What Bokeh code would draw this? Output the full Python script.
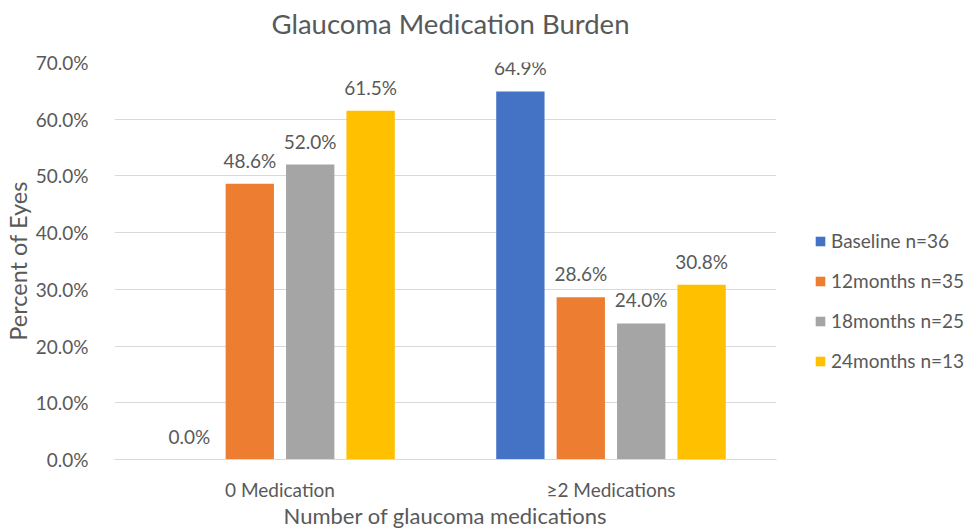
from bokeh.plotting import figure
from bokeh.layouts import row
from bokeh.models import (ColumnDataSource, FactorRange, Range1d, PrintfTickFormatter,
                          Legend, LegendItem, FixedTicker, Title)
from bokeh.transform import dodge
from bokeh.core.properties import value
from bokeh.embed import file_html
from bokeh.resources import INLINE

categories = ["0 Medication", "≥2 Medications"]
series = ["Baseline n=36", "12months n=35", "18months n=25", "24months n=13"]
baseline = [0.0, 64.9]
m12 = [48.6, 28.6]
m18 = [52.0, 24.0]
m24 = [61.5, 30.8]
colors = ["#4472C4", "#ED7D31", "#A5A5A5", "#FFC000"]
y_ticks = [0, 10, 20, 30, 40, 50, 60, 70]

FONT = "Lato"
TXT = "#595959"
FS = "19px"

data = dict(cat=categories, s0=baseline, s1=m12, s2=m18, s3=m24)
for i, k in enumerate(["s0", "s1", "s2", "s3"]):
    data[k + "_lbl"] = ["%.1f%%" % v for v in data[k]]
src = ColumnDataSource(data)

p = figure(width=790, height=531, x_range=FactorRange(factors=categories, range_padding=0),
           y_range=Range1d(0, 70), output_backend="svg", toolbar_location=None,
           min_border_left=113, min_border_right=14, min_border_top=62, min_border_bottom=71,
           title=None)
p.outline_line_color = None

spacer = Title(text=" ", text_font_size="1px", standoff=19)
p.add_layout(spacer, "above")
main_title = Title(text="Glaucoma Medication Burden", align="left", offset=157,
                   text_font=FONT, text_font_size="27.5px", text_font_style="normal",
                   text_color=TXT, standoff=2)
p.add_layout(main_title, "above")

step = 0.1825
width = 0.146
offsets = [-1.5 * step, -0.5 * step, 0.5 * step, 1.5 * step]
renderers = []
for i, k in enumerate(["s0", "s1", "s2", "s3"]):
    r = p.vbar(x=dodge("cat", offsets[i], range=p.x_range), top=k, width=width,
               source=src, fill_color=colors[i], line_color=None)
    renderers.append(r)
    p.text(x=dodge("cat", offsets[i], range=p.x_range), y=k, text=k + "_lbl", source=src,
           text_align="center", text_baseline="bottom", y_offset=-12,
           text_font=value(FONT), text_font_size=FS, text_color=TXT)

# axes
p.yaxis.ticker = FixedTicker(ticks=y_ticks)
p.yaxis.formatter = PrintfTickFormatter(format="%.1f%%")
p.yaxis.axis_line_color = None
p.yaxis.major_tick_line_color = None
p.yaxis.minor_tick_line_color = None
p.yaxis.major_label_standoff = 20
p.yaxis.major_label_text_font = FONT
p.yaxis.major_label_text_font_size = FS
p.yaxis.major_label_text_color = TXT
p.yaxis.axis_label = "Percent of Eyes"
p.yaxis.axis_label_text_font = FONT
p.yaxis.axis_label_text_font_size = "23.5px"
p.yaxis.axis_label_text_font_style = "normal"
p.yaxis.axis_label_text_color = TXT
p.yaxis.axis_label_standoff = 1

p.xaxis.axis_line_color = "#D9D9D9"
p.xaxis.axis_line_width = 1
p.xaxis.major_tick_line_color = None
p.xaxis.minor_tick_line_color = None
p.xaxis.major_label_standoff = 12
p.xaxis.major_label_text_font = FONT
p.xaxis.major_label_text_font_size = FS
p.xaxis.major_label_text_color = TXT
p.xaxis.axis_label = "Number of glaucoma medications"
p.xaxis.axis_label_text_font = FONT
p.xaxis.axis_label_text_font_size = "22px"
p.xaxis.axis_label_text_font_style = "normal"
p.xaxis.axis_label_text_color = TXT
p.xaxis.axis_label_standoff = -2

p.xgrid.grid_line_color = None
p.ygrid.grid_line_color = "#D9D9D9"
p.ygrid.ticker = FixedTicker(ticks=y_ticks)

# legend panel (hidden copies of the bar series supply the legend glyphs)
p2 = figure(width=176, height=531, x_range=FactorRange(factors=categories),
            y_range=Range1d(0, 70), x_axis_type=None, y_axis_type=None,
            output_backend="svg", toolbar_location=None, min_border=0, title=None)
p2.outline_line_color = None
p2.xgrid.visible = False
p2.ygrid.visible = False
hidden = []
for i, k in enumerate(["s0", "s1", "s2", "s3"]):
    h = p2.vbar(x="cat", top=k, width=0.1, source=src, fill_color=colors[i],
                line_color=None, visible=False)
    hidden.append(h)

legend = Legend(items=[LegendItem(label=series[i], renderers=[hidden[i]]) for i in range(4)],
                location=(24, 87), orientation="vertical")
legend.glyph_width = 12
legend.glyph_height = 12
legend.label_height = 22
legend.spacing = 17
legend.padding = 0
legend.margin = 0
legend.label_standoff = 5
legend.label_text_font = FONT
legend.label_text_font_size = FS
legend.label_text_color = TXT
legend.border_line_color = None
legend.background_fill_alpha = 0
p2.add_layout(legend, "center")

layout = row(p, p2)
open("out.html", "w").write(file_html(layout, INLINE))
